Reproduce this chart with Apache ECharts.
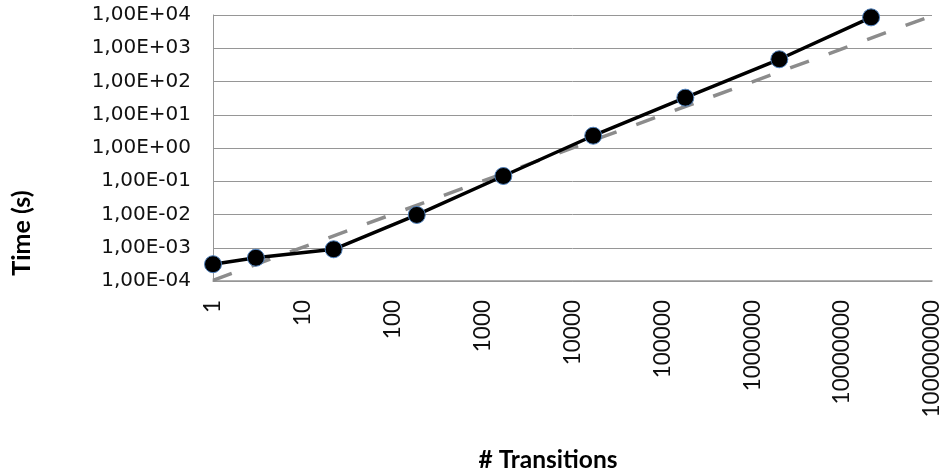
<!DOCTYPE html>
<html>
<head>
<meta charset="utf-8">
<script src="https://cdn.jsdelivr.net/npm/echarts@6/dist/echarts.min.js"></script>
<style>
  html, body { margin: 0; padding: 0; background: #fff; }
  #chart { width: 944px; height: 475px; }
</style>
</head>
<body>
<div id="chart"></div>
<script>
// Measured run times against model size (log-log)
const transitions = [1, 3, 22, 185, 1700, 17000, 180000, 2000000, 21000000];
const timeSec = [3.2e-4, 5.0e-4, 9.0e-4, 0.0097, 0.144, 2.34, 32.6, 466, 8500];

// Power trend line end points
const trendX = [1, 100000000];
const trendY = [1.05e-4, 9.5e3];

// Axis tick labels, one per decade
const xTickLabels = ['1', '10', '100', '1000', '10000', '100000', '1000000', '10000000', '100000000'];
const yTickLabels = ['1,00E-04', '1,00E-03', '1,00E-02', '1,00E-01', '1,00E+00', '1,00E+01', '1,00E+02', '1,00E+03', '1,00E+04'];

const xTitle = '# Transitions';
const yTitle = 'Time (s)';

const gridColor = '#969696';

const chart = echarts.init(document.getElementById('chart'), null, { renderer: 'canvas' });

const pairs = (xs, ys) => xs.map((x, i) => [x, ys[i]]);

chart.setOption({
  animation: false,
  backgroundColor: '#ffffff',
  grid: { left: 213, right: 12, top: 15, bottom: 194, containLabel: false },
  xAxis: {
    type: 'log',
    logBase: 10,
    min: 1,
    max: 100000000,
    axisLine: { show: true, lineStyle: { color: gridColor, width: 1.5 } },
    axisTick: { show: false },
    splitLine: { show: false },
    axisLabel: {
      rotate: 90,
      margin: 19,
      color: '#111',
      fontFamily: 'Lato',
      fontSize: 22.5,
      formatter: v => xTickLabels[Math.round(Math.log10(v))]
    }
  },
  yAxis: {
    type: 'log',
    logBase: 10,
    min: 1e-4,
    max: 1e4,
    axisLine: { show: true, lineStyle: { color: gridColor, width: 1 } },
    axisTick: { show: false },
    splitLine: { show: true, lineStyle: { color: gridColor, width: 1 } },
    axisLabel: {
      margin: 22,
      color: '#111',
      fontFamily: 'DejaVu Sans',
      fontSize: 20,
      formatter: v => yTickLabels[Math.round(Math.log10(v)) + 4]
    }
  },
  graphic: [
    {
      type: 'text',
      x: 548,
      y: 460,
      style: {
        text: xTitle, font: 'bold 24.5px Lato', fill: '#000',
        align: 'center', verticalAlign: 'middle'
      }
    },
    {
      type: 'text',
      x: 22,
      y: 233,
      rotation: Math.PI / 2,
      style: {
        text: yTitle, font: 'bold 25px Lato', fill: '#000',
        align: 'center', verticalAlign: 'middle'
      }
    }
  ],
  series: [
    {
      name: 'trend',
      type: 'line',
      data: pairs(trendX, trendY),
      symbol: 'none',
      z: 2,
      lineStyle: { color: '#8c8c8c', width: 3.5, type: [20, 21] }
    },
    {
      name: 'time',
      type: 'line',
      data: pairs(transitions, timeSec),
      symbol: 'circle',
      symbolSize: 17,
      z: 3,
      lineStyle: { color: '#000', width: 3.5 },
      itemStyle: { color: '#000', borderColor: '#4f81bd', borderWidth: 1 }
    }
  ]
});
</script>
</body>
</html>
